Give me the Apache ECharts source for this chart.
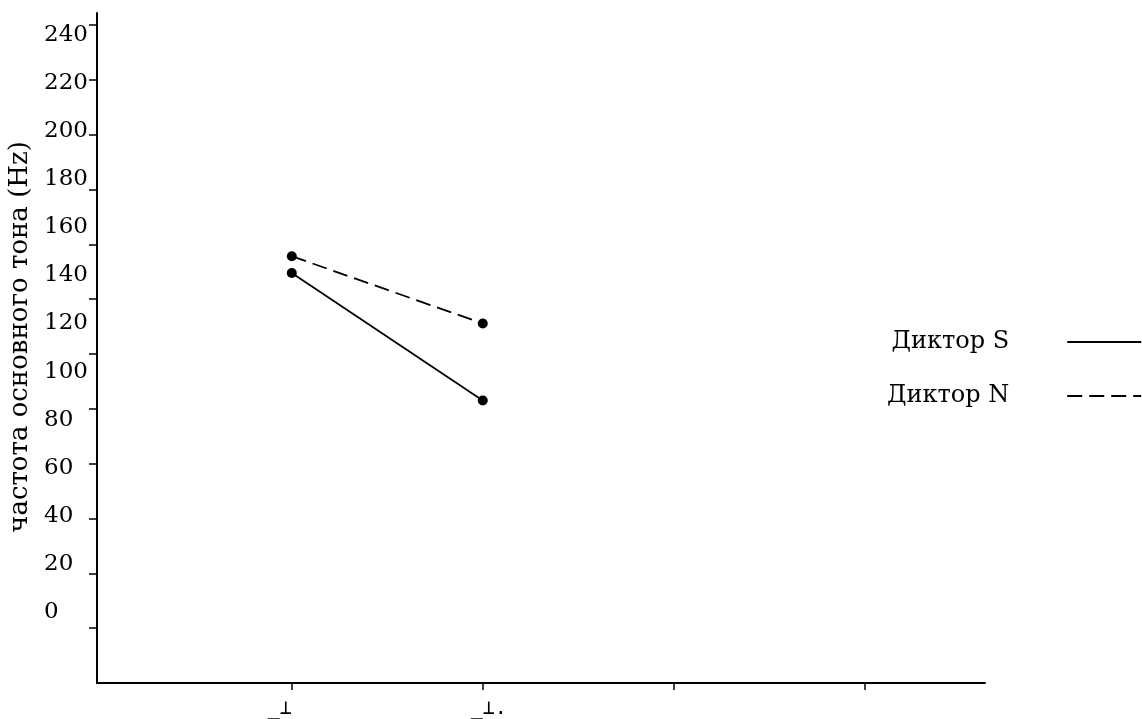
<!DOCTYPE html>
<html>
<head>
<meta charset="utf-8">
<script src="https://cdn.jsdelivr.net/npm/echarts@6/dist/echarts.min.js"></script>
<style>
  html, body { margin: 0; padding: 0; background: #fff; }
  #chart { width: 1142px; height: 719px; }
</style>
</head>
<body>
<div id="chart"></div>
<script>
// Fundamental frequency (Hz) for two speakers at two measurement points
const xPositions = [1, 2];
const speakerS = [141, 88];
const speakerN = [148, 120];
const seriesNames = ['Диктор S', 'Диктор N'];

// Axis texts and tick positions
const yLabelValues = [0, 20, 40, 60, 80, 100, 120, 140, 160, 180, 200, 220, 240];
const yTickSteps = [1, 2, 3, 4, 5, 6, 7, 8, 9, 10, 11, 12];
const xTickSteps = [1, 2, 3, 4];
const xLabels = ['_⊥  ', ' _⊥.'];
const yName = 'частота основного тона (Hz)';

const SERIF = '"DejaVu Serif", "Liberation Serif", serif';

const chart = echarts.init(document.getElementById('chart'), null, { renderer: 'canvas' });

const pairs = arr => arr.map((v, i) => [xPositions[i], v]);

chart.setOption({
  animation: false,
  backgroundColor: '#ffffff',
  grid: {
    left: 97, right: 157, top: 13, bottom: 36,
    containLabel: false,
    outerBoundsMode: 'none'
  },
  legend: {
    orient: 'vertical',
    left: 882,
    top: 325,
    align: 'right',
    itemWidth: 74,
    itemHeight: 20,
    itemGap: 30,
    data: seriesNames,
    itemStyle: { opacity: 0 },
    textStyle: {
      fontFamily: SERIF,
      fontSize: 24,
      color: '#000',
      lineHeight: 20,
      padding: [0, 53, 0, 0]
    }
  },
  xAxis: {
    type: 'value',
    min: -0.02,
    max: 4.63,
    splitLine: { show: false },
    axisLine: { show: true, onZero: false, lineStyle: { color: '#000', width: 2 } },
    axisTick: {
      show: true, inside: false, length: 7,
      customValues: xTickSteps,
      lineStyle: { color: '#000', width: 1.5 }
    },
    axisLabel: {
      show: true,
      customValues: xPositions,
      formatter: v => xLabels[Math.round(v) - 1] || '',
      margin: 16,
      fontFamily: '"DejaVu Sans Mono", monospace',
      fontSize: 20,
      color: '#000'
    }
  },
  yAxis: [
    {
      // Frequency scale carrying the data and the value labels
      type: 'value',
      min: -29.53,
      max: 249.15,
      position: 'left',
      splitLine: { show: false },
      axisLine: { show: false, onZero: false },
      axisTick: { show: false },
      axisLabel: {
        show: true,
        customValues: yLabelValues,
        align: 'left',
        margin: 53,
        fontFamily: SERIF,
        fontSize: 23,
        color: '#000'
      },
      name: yName,
      nameLocation: 'middle',
      nameGap: 61,
      nameTextStyle: {
        fontFamily: SERIF,
        fontSize: 26,
        color: '#000',
        padding: [0, 0, 0, 22]
      }
    },
    {
      // Axis line with its evenly spaced ticks
      type: 'value',
      min: 0,
      max: 12.22,
      position: 'left',
      splitLine: { show: false },
      axisLine: { show: true, onZero: false, lineStyle: { color: '#000', width: 2 } },
      axisTick: {
        show: true, inside: false, length: 8,
        customValues: yTickSteps,
        lineStyle: { color: '#000', width: 1.5 }
      },
      axisLabel: { show: false }
    }
  ],
  series: [
    {
      name: seriesNames[0],
      type: 'line',
      yAxisIndex: 0,
      data: pairs(speakerS),
      symbol: 'circle',
      symbolSize: 10,
      itemStyle: { color: '#000' },
      lineStyle: { color: '#000', width: 1.8, type: 'solid' }
    },
    {
      name: seriesNames[1],
      type: 'line',
      yAxisIndex: 0,
      data: pairs(speakerN),
      symbol: 'circle',
      symbolSize: 10,
      itemStyle: { color: '#000' },
      lineStyle: { color: '#000', width: 1.8, type: [15, 7] }
    }
  ]
});
</script>
</body>
</html>
